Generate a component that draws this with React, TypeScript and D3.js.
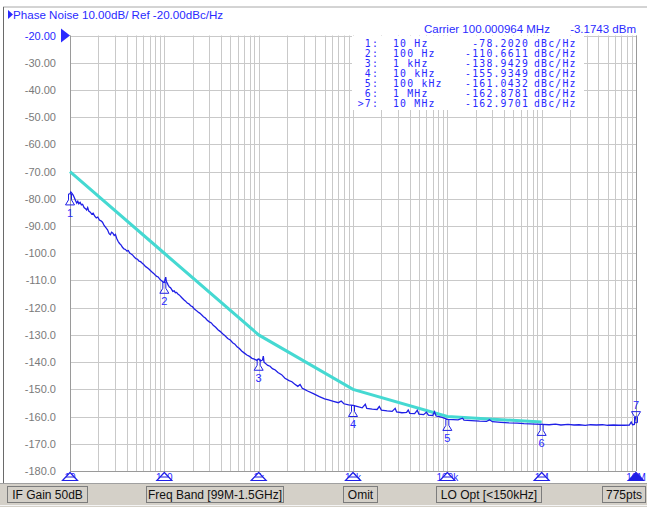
import React from "react";
import * as d3 from "d3";

const W = 647;
const H = 507;

// ---------- data ----------
const yTicks = [-20, -30, -40, -50, -60, -70, -80, -90, -100, -110, -120, -130, -140, -150, -160, -170, -180];
const yTickLabels = ["-20.00", "-30.00", "-40.00", "-50.00", "-60.00", "-70.00", "-80.00", "-90.00", "-100.0", "-110.0", "-120.0", "-130.0", "-140.0", "-150.0", "-160.0", "-170.0", "-180.0"];
const decadeFreqs = [10, 100, 1000, 10000, 100000, 1000000, 10000000];
const decadeLabels = ["10", "100", "1k", "10k", "100k", "1M", "10M"];

// Reference (turquoise) spot-noise line
const refFreqHz = [10, 100, 1000, 10000, 100000, 1000000];
const refDbc = [-70, -100, -130, -150, -160, -162];

// Measured phase-noise trace (blue): [Hz, dBc/Hz]
const trace: [number, number][] = [
  [10, -78.2], [10.2, -77.5], [10.5, -78.0], [10.8, -78.6], [11.1, -79.5], [11.5, -80.8], [11.8, -81.6], [12.1, -80.9],
  [12.4, -81.8], [12.8, -81.3], [13.2, -82.2], [13.6, -82.0], [14.1, -83.2], [14.6, -83.6], [15.0, -84.1], [15.4, -83.2],
  [15.8, -84.5], [16.4, -84.9], [17.0, -85.6], [17.6, -85.3], [18.3, -86.4], [19.0, -87.0], [19.7, -86.7], [20.5, -87.8],
  [21.3, -88.1], [22.1, -88.6], [23.0, -89.8], [24.0, -90.6], [25.0, -91.4], [26.0, -92.8], [26.8, -93.2], [27.6, -92.3],
  [28.5, -92.6], [29.4, -93.5], [30.3, -93.1], [31.3, -94.6], [32.3, -95.6], [33.5, -96.4], [34.7, -96.9], [36, -97.8],
  [37.3, -98.4], [38.7, -98.6], [40, -99.2], [41.5, -99.0], [43, -99.9], [44.5, -100.3], [46, -100.6], [48, -101.4],
  [50, -102.0], [52, -102.2], [54, -102.9], [56, -103.1], [58, -103.6], [60, -104.0], [62, -104.6], [64, -105.0],
  [66.5, -105.4], [69, -105.9], [71.5, -106.4], [74, -106.9], [77, -107.4], [80, -108.0], [83, -108.5], [86, -108.7],
  [89, -109.4], [92, -109.9], [95, -110.3], [97.5, -110.6], [100, -110.7], [102, -109.5], [103.5, -108.8], [105, -110.3],
  [107, -110.9], [110, -111.7], [113, -112.4], [116, -112.6], [119, -113.2], [123, -114.0], [127, -113.8], [131, -114.5],
  [135, -114.4], [140, -115.1], [145, -115.4], [150, -116.0], [156, -116.6], [162, -117.2], [168, -117.6], [175, -118.3],
  [182, -118.6], [190, -119.3], [198, -119.6], [207, -120.4], [216, -120.9], [226, -121.5], [237, -122.0], [248, -122.6],
  [260, -123.3], [272, -123.8], [285, -124.6], [300, -125.2], [315, -125.6], [330, -126.5], [350, -127.2], [370, -128.1],
  [390, -128.7], [415, -129.6], [440, -130.3], [470, -131.3], [500, -131.9], [530, -132.9], [560, -133.4], [590, -134.4],
  [625, -135.0], [660, -135.9], [700, -136.6], [750, -137.4], [800, -137.9], [850, -138.6], [900, -138.9], [950, -139.3],
  [1000, -138.9], [1050, -139.6], [1100, -139.2], [1120, -137.8], [1140, -140.0], [1250, -141.2], [1320, -141.5], [1400, -142.4],
  [1500, -142.9], [1600, -143.8], [1750, -144.6], [1900, -145.9], [2100, -146.8], [2250, -147.2], [2400, -148.0], [2600, -148.9],
  [2750, -148.2], [2900, -149.6], [3100, -150.1], [3300, -150.6], [3800, -151.6], [4400, -152.7], [5000, -153.5], [5500, -153.9],
  [6200, -154.4], [7000, -154.9], [7500, -154.3], [8000, -155.3], [9000, -155.7], [10000, -155.9], [11000, -156.3], [12500, -156.8],
  [13500, -155.5], [14000, -157.0], [16000, -157.3], [18000, -157.4], [19000, -156.3], [20000, -157.6], [23000, -157.9], [26000, -158.1],
  [28000, -157.0], [29000, -158.3], [33000, -158.6], [37000, -158.5], [38500, -157.6], [40000, -158.8], [45000, -158.9], [48000, -157.7],
  [50000, -159.1], [56000, -159.3], [60000, -158.4], [63000, -159.5], [70000, -159.6], [73000, -158.2], [76000, -159.8], [82000, -160.0],
  [88000, -160.3], [94000, -160.7], [100000, -161.0], [115000, -161.1], [130000, -161.2], [145000, -160.6], [150000, -161.3], [180000, -161.5],
  [220000, -161.7], [260000, -161.8], [280000, -161.2], [300000, -161.9], [370000, -162.1], [450000, -162.3], [550000, -162.4], [650000, -162.6],
  [750000, -162.7], [850000, -162.8], [1000000, -162.9], [1200000, -163.0], [1400000, -162.8], [1600000, -163.1], [1900000, -162.9], [2200000, -163.1],
  [2500000, -163.0], [2900000, -163.2], [3300000, -163.0], [3800000, -163.1], [4400000, -163.0], [5000000, -163.2], [5800000, -163.1], [6500000, -163.2],
  [7500000, -163.2], [8500000, -163.1], [8900000, -162.0], [9200000, -163.0], [9600000, -162.9], [9800000, -161.0], [10000000, -159.8],
];

// Marker table
const markerIds = ["1:", "2:", "3:", "4:", "5:", "6:", ">7:"];
const markerFreqHz = [10, 100, 1000, 10000, 100000, 1000000, 10000000];
const markerFreqLabels = ["10 Hz", "100 Hz", "1 kHz", "10 kHz", "100 kHz", "1 MHz", "10 MHz"];
const markerDbc = [-78.202, -110.6611, -138.9429, -155.9349, -161.0432, -162.8781, -162.9701];
const markerValueLabels = ["-78.2020", "-110.6611", "-138.9429", "-155.9349", "-161.0432", "-162.8781", "-162.9701"];

const statusItems = ["IF Gain 50dB", "Freq Band [99M-1.5GHz]", "Omit", "LO Opt [<150kHz]", "775pts"];
const statusX = [7, 146, 343, 436, 602];
const statusW = [80, 137, 34, 105, 43];

// ---------- layout ----------
const PL = 70;
const PR = 636;
const PT = 35.5;
const PB = 471;

const BLUE = "#1f1fe6";
const TEXTBLUE = "#2a2aff";
const CYAN = "#45d9d2";
const GRID = "#c9c9c9";
const SANS = "'Liberation Sans', Arial, sans-serif";
const MONO = "'DejaVu Sans Mono', 'Liberation Mono', monospace";

export default function App() {
  const x = d3.scaleLog().domain([10, 1e7]).range([PL, PR]);
  const y = d3.scaleLinear().domain([-180, -20]).range([PB, PT]);

  const minorFreqs: number[] = [];
  for (let k = 1; k <= 6; k++) {
    for (let n = 1; n <= 9; n++) minorFreqs.push(n * Math.pow(10, k));
  }
  minorFreqs.push(1e7);

  const pathGen = d3
    .line<[number, number]>()
    .x((d) => x(d[0]))
    .y((d) => y(d[1]));

  const tracePath = pathGen(trace);
  const refPath = pathGen(refFreqHz.map((f, i) => [f, refDbc[i]] as [number, number]));

  const markerShape = (mx: number, my: number) =>
    `M${mx - 1.5},${my} V${my + 6} L${mx - 4.5},${my + 11} H${mx + 4.5} L${mx + 1.5},${my + 6} V${my} Z`;
  const markerShapeInv = (mx: number, my: number) =>
    `M${mx - 1.5},${my} V${my - 6} L${mx - 4.5},${my - 11} H${mx + 4.5} L${mx + 1.5},${my - 6} V${my} Z`;

  return (
    <div style={{ position: "absolute", left: 0, top: 0, width: W, height: H, background: "#fff" }}>
      <svg width={W} height={H} style={{ display: "block" }}>
        <rect x={0} y={0} width={W} height={H} fill="#fff" />
        {/* outer frame */}
        <line x1={3} y1={7} x2={W} y2={7} stroke="#a8a8a8" />
        <line x1={3.5} y1={7} x2={3.5} y2={483} stroke="#6a6a6a" />

        {/* header */}
        <path d="M8,10 L13,14.5 L8,19 Z" fill={TEXTBLUE} />
        <text x={13} y={19} fontFamily={SANS} fontSize={11.6} fill={TEXTBLUE}>
          Phase Noise 10.00dB/ Ref -20.00dBc/Hz
        </text>
        <text x={424} y={33} fontFamily={SANS} fontSize={11.5} fill={TEXTBLUE}>
          Carrier 100.000964 MHz
        </text>
        <text x={636} y={33} fontFamily={SANS} fontSize={11.5} fill={TEXTBLUE} textAnchor="end">
          -3.1743 dBm
        </text>

        {/* grid */}
        {minorFreqs.map((f, i) => (
          <line key={"v" + i} x1={Math.round(x(f)) + 0.5} x2={Math.round(x(f)) + 0.5} y1={PT} y2={PB} stroke={GRID} />
        ))}
        {yTicks.map((t, i) => (
          <line key={"h" + i} x1={PL} x2={PR} y1={Math.round(y(t)) + 0.5} y2={Math.round(y(t)) + 0.5} stroke={GRID} />
        ))}
        <line x1={PL + 0.5} x2={PL + 0.5} y1={PT} y2={PB} stroke="#9a9a9a" />
        <line x1={PR + 0.5} x2={PR + 0.5} y1={PT} y2={PB} stroke="#9a9a9a" />
        <line x1={PL} x2={PR} y1={PB + 0.5} y2={PB + 0.5} stroke="#9a9a9a" />

        {/* y labels */}
        {yTicks.map((t, i) => (
          <text
            key={"yl" + i}
            x={56}
            y={y(t) + 4}
            textAnchor="end"
            fontFamily={SANS}
            fontSize={11}
            fill={i === 0 ? TEXTBLUE : "#7a7a7a"}
          >
            {yTickLabels[i]}
          </text>
        ))}
        <path d={`M61,${PT - 7} L70,${PT} L61,${PT + 7} Z`} fill={TEXTBLUE} />

        {/* marker table background */}
        <rect x={352} y={36} width={232} height={74} fill="#fff" />
        {markerIds.map((id, i) => {
          const ty = 46.5 + i * 10.1;
          return (
            <g key={"mt" + i} fontFamily={MONO} fontSize={9.8} fill={TEXTBLUE} letterSpacing={1.2}>
              <text x={379} y={ty} textAnchor="end">{id}</text>
              <text x={393} y={ty}>{markerFreqLabels[i]}</text>
              <text x={529} y={ty} textAnchor="end">{markerValueLabels[i]}</text>
              <text x={534} y={ty}>dBc/Hz</text>
            </g>
          );
        })}

        {/* traces */}
        <path d={refPath || ""} fill="none" stroke={CYAN} strokeWidth={3} />
        <path d={tracePath || ""} fill="none" stroke={BLUE} strokeWidth={1.3} />

        {/* markers on trace */}
        {markerFreqHz.map((f, i) => {
          const mx = x(f);
          const my = y(markerDbc[i]);
          if (i === 6) {
            return (
              <g key={"m" + i}>
                <path d={markerShapeInv(mx, my - 2)} fill="none" stroke={BLUE} strokeWidth={1} />
                <text x={mx} y={my - 16} textAnchor="middle" fontFamily={SANS} fontSize={11} fill={TEXTBLUE}>
                  {i + 1}
                </text>
              </g>
            );
          }
          return (
            <g key={"m" + i}>
              <path d={markerShape(mx, my)} fill="none" stroke={BLUE} strokeWidth={1} />
              <text x={mx} y={my + 23} textAnchor="middle" fontFamily={SANS} fontSize={11} fill={TEXTBLUE}>
                {i + 1}
              </text>
            </g>
          );
        })}

        {/* bottom decade triangles */}
        {decadeFreqs.map((f, i) => {
          const mx = x(f);
          return (
            <text key={"dl" + i} x={mx} y={481} textAnchor="middle" fontFamily={SANS} fontSize={10} fill={TEXTBLUE}>
              {decadeLabels[i]}
            </text>
          );
        })}
        {decadeFreqs.map((f, i) => {
          const mx = x(f);
          const last = i === decadeFreqs.length - 1;
          return (
            <g key={"dt" + i}>
              <path
                d={`M${mx},${PB + 1.5} L${mx - 7.5},${PB + 9.5} H${mx + 7.5} Z`}
                fill={last ? BLUE : "#fff"}
                stroke={BLUE}
                strokeWidth={1.2}
              />
              {!last && <line x1={mx - 4} x2={mx + 4} y1={PB + 6} y2={PB + 6} stroke={BLUE} strokeWidth={1} />}
            </g>
          );
        })}

        {/* status bar */}
        <rect x={0} y={483} width={W} height={H - 483} fill="#d4d0c8" />
        <line x1={0} x2={W} y1={483.5} y2={483.5} stroke="#a0a0a0" />
        <line x1={0} x2={W} y1={505.5} y2={505.5} stroke="#f4f4f4" />
        {statusItems.map((s, i) => (
          <g key={"s" + i}>
            <rect x={statusX[i] + 0.5} y={486.5} width={statusW[i]} height={16} fill="#d4d0c8" stroke="#7c7c7c" />
            <text
              x={statusX[i] + statusW[i] / 2 + 0.5}
              y={499}
              textAnchor="middle"
              fontFamily={SANS}
              fontSize={12}
              fill="#111"
            >
              {s}
            </text>
          </g>
        ))}
      </svg>
    </div>
  );
}
